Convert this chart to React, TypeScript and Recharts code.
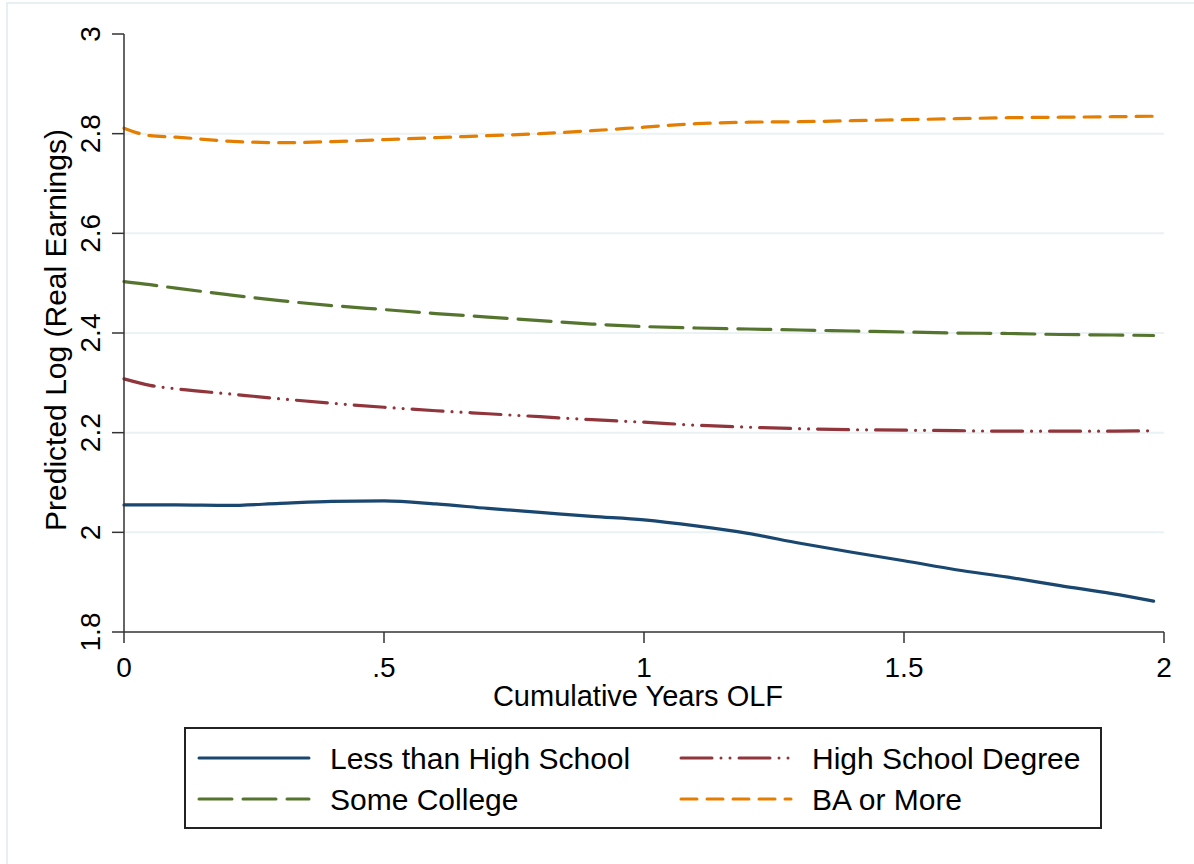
import React from 'react';
import { CartesianGrid, Line, LineChart, XAxis, YAxis } from 'recharts';

// cumulative years out of the labour force
const YEARS = [
  0, 0.05, 0.1, 0.2, 0.3, 0.4, 0.5, 0.6, 0.7, 0.8, 0.9, 1.0, 1.1, 1.2, 1.3, 1.4,
  1.5, 1.6, 1.7, 1.8, 1.9, 1.98,
];

// predicted log real earnings by education group
const LESS_THAN_HS = [
  2.055, 2.055, 2.055, 2.054, 2.058, 2.062, 2.063, 2.057, 2.048, 2.04, 2.032,
  2.025, 2.013, 1.998, 1.978, 1.96, 1.943, 1.925, 1.91, 1.893, 1.877, 1.862,
];
const HS_DEGREE = [
  2.308, 2.295, 2.288, 2.278, 2.268, 2.259, 2.251, 2.244, 2.238, 2.232, 2.226,
  2.221, 2.215, 2.211, 2.208, 2.206, 2.205, 2.204, 2.203, 2.203, 2.203, 2.204,
];
const SOME_COLLEGE = [
  2.503, 2.497, 2.49, 2.477, 2.465, 2.455, 2.447, 2.439, 2.432, 2.425, 2.418,
  2.413, 2.41, 2.408, 2.406, 2.404, 2.402, 2.4, 2.399, 2.397, 2.396, 2.395,
];
const BA_OR_MORE = [
  2.811, 2.796, 2.793, 2.785, 2.782, 2.784, 2.788, 2.792, 2.796, 2.8, 2.806,
  2.813, 2.82, 2.823, 2.824, 2.826, 2.828, 2.83, 2.832, 2.833, 2.834, 2.835,
];

const X_TICKS = [0, 0.5, 1, 1.5, 2];
const X_TICK_LABELS = ['0', '.5', '1', '1.5', '2'];
const Y_TICKS = [1.8, 2, 2.2, 2.4, 2.6, 2.8, 3];
const Y_TICK_LABELS = ['1.8', '2', '2.2', '2.4', '2.6', '2.8', '3'];
const GRID_VALUES = [2, 2.2, 2.4, 2.6, 2.8];

const SERIES = [
  { key: 'lths', name: 'Less than High School', color: '#1a476f', dash: undefined },
  { key: 'hs', name: 'High School Degree', color: '#90353b', dash: '31 9 0 9 0 9' },
  { key: 'sc', name: 'Some College', color: '#55752f', dash: '33 11' },
  { key: 'ba', name: 'BA or More', color: '#e37e00', dash: '16 10' },
];

const rows = YEARS.map((x, i) => ({
  x,
  lths: LESS_THAN_HS[i],
  hs: HS_DEGREE[i],
  sc: SOME_COLLEGE[i],
  ba: BA_OR_MORE[i],
}));

const FONT = '"Liberation Sans", Arial, Helvetica, sans-serif';
const AXIS_COLOR = '#333';

function XTick(props: any) {
  const { x, y, payload } = props;
  const i = X_TICKS.indexOf(payload.value);
  return (
    <text x={x} y={y + 32} textAnchor="middle" fontSize={28} fill="#000" fontFamily={FONT}>
      {X_TICK_LABELS[i]}
    </text>
  );
}

function YTick(props: any) {
  const { x, y, payload } = props;
  const i = Y_TICKS.indexOf(payload.value);
  const bx = x - 10;
  return (
    <text
      x={bx}
      y={y}
      transform={`rotate(-90 ${bx} ${y})`}
      textAnchor="middle"
      fontSize={28}
      fill="#000"
      fontFamily={FONT}
    >
      {Y_TICK_LABELS[i]}
    </text>
  );
}

function XTitle(props: any) {
  const { viewBox } = props;
  return (
    <text
      x={viewBox.x + viewBox.width / 2 - 6}
      y={706}
      textAnchor="middle"
      fontSize={29}
      fill="#000"
      fontFamily={FONT}
    >
      Cumulative Years OLF
    </text>
  );
}

function YTitle(props: any) {
  const { viewBox } = props;
  const cy = viewBox.y + viewBox.height / 2 - 3;
  return (
    <text
      x={66}
      y={cy}
      transform={`rotate(-90 66 ${cy})`}
      textAnchor="middle"
      fontSize={30}
      fill="#000"
      fontFamily={FONT}
    >
      Predicted Log (Real Earnings)
    </text>
  );
}

function LegendBox() {
  const rowY = [31, 72];
  const colX = [13, 495];
  return (
    <svg
      width={918}
      height={102}
      style={{ position: 'absolute', left: 184, top: 727, overflow: 'visible' }}
    >
      <rect x={1} y={1} width={916} height={100} fill="#fff" stroke="#222" strokeWidth={2} />
      {SERIES.map((s, i) => {
        const cx = colX[i % 2];
        const cy = rowY[Math.floor(i / 2)];
        return (
          <g key={s.key}>
            <line
              x1={cx + 2}
              x2={cx + 112}
              y1={cy}
              y2={cy}
              stroke={s.color}
              strokeWidth={3}
              strokeDasharray={s.dash}
              strokeLinecap="round"
            />
            <text x={cx + 133} y={cy + 11} fontSize={30} fill="#000" fontFamily={FONT}>
              {s.name}
            </text>
          </g>
        );
      })}
    </svg>
  );
}

export default function App() {
  return (
    <div
      style={{
        position: 'absolute',
        left: 0,
        top: 0,
        width: 1194,
        height: 864,
        overflow: 'hidden',
        background: '#fff',
      }}
    >
      <div
        style={{
          position: 'absolute',
          left: 6,
          top: 2,
          width: 1300,
          height: 1000,
          border: '2px solid #e8eff1',
        }}
      />
      <div style={{ position: 'absolute', left: 0, top: 0 }}>
        <LineChart
          width={1194}
          height={864}
          data={rows}
          margin={{ top: 34, right: 30, left: 24, bottom: 152 }}
        >
          <CartesianGrid
            vertical={false}
            horizontalValues={GRID_VALUES}
            stroke="#eaf2f3"
            strokeWidth={2}
          />
          <XAxis
            dataKey="x"
            type="number"
            domain={[0, 2]}
            ticks={X_TICKS}
            height={80}
            axisLine={{ stroke: AXIS_COLOR, strokeWidth: 1.5 }}
            tickLine={{ stroke: AXIS_COLOR, strokeWidth: 1.5 }}
            tickSize={11}
            tick={<XTick />}
            label={<XTitle />}
            interval={0}
          />
          <YAxis
            type="number"
            domain={[1.8, 3]}
            ticks={Y_TICKS}
            width={100}
            axisLine={{ stroke: AXIS_COLOR, strokeWidth: 1.5 }}
            tickLine={{ stroke: AXIS_COLOR, strokeWidth: 1.5 }}
            tickSize={12}
            tick={<YTick />}
            label={<YTitle />}
            interval={0}
          />
          {SERIES.map((s) => (
            <Line
              key={s.key}
              dataKey={s.key}
              name={s.name}
              type="monotone"
              stroke={s.color}
              strokeWidth={3.2}
              strokeDasharray={s.dash}
              strokeLinecap="round"
              dot={false}
              activeDot={false}
              isAnimationActive={false}
            />
          ))}
        </LineChart>
      </div>
      <LegendBox />
    </div>
  );
}
